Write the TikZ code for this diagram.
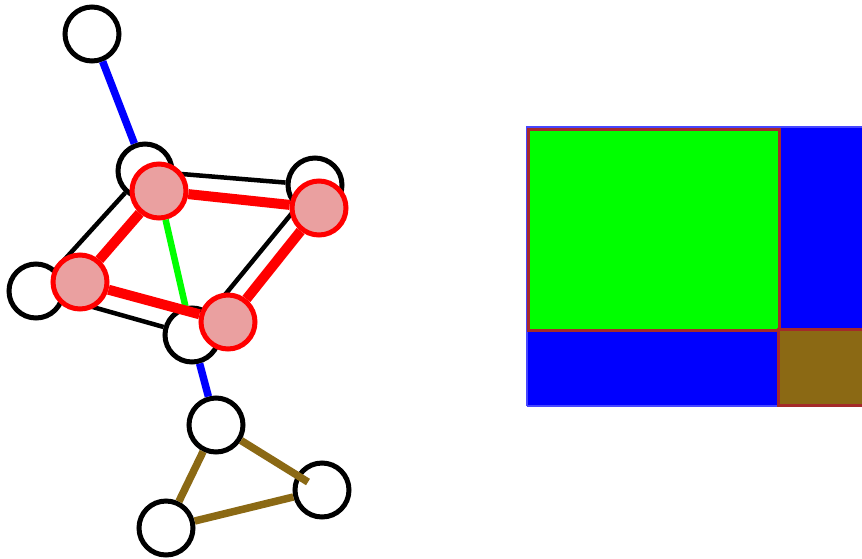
\documentclass[tikz,border=0pt]{standalone}
\begin{document}
\begin{tikzpicture}[x=1pt,y=-1pt,
  wnode/.style={circle,draw=black,line width=5pt,fill=white,minimum size=54pt,inner sep=0pt},
  rnode/.style={circle,draw=red,line width=5pt,fill=pinkfill,minimum size=54pt,inner sep=0pt},
  blk/.style={draw=black,line width=4.5pt},
  blu/.style={draw=blue,line width=7.5pt},
  grn/.style={draw=green,line width=6.5pt},
  rdl/.style={draw=red,line width=10pt},
  brn/.style={draw=olivebrown,line width=7.5pt},
  rectedge/.style={draw=rectborder,line width=3pt}]
\definecolor{pinkfill}{RGB}{234,160,160}
\definecolor{olivebrown}{RGB}{139,105,20}
\definecolor{rectborder}{RGB}{165,42,42}
\definecolor{lightblue}{RGB}{70,70,255}
\useasboundingbox (0,0) rectangle (862,558);
% rectangles
\fill[blue] (527,127) rectangle (875,406);
\draw[lightblue,line width=1.5pt] (527,406) -- (527,127) -- (875,127);
\draw[lightblue,line width=1.5pt] (527,406) -- (780,406);
\path[fill=green,rectedge] (528,129) rectangle (779,330);
\path[fill=olivebrown,rectedge] (778,329) rectangle (880,405);
% white nodes
\node[wnode] (A) at (92,34) {};
\node[wnode] (B) at (145,171) {};
\node[wnode] (C) at (315,185) {};
\node[wnode] (D) at (36,291) {};
\node[wnode] (E) at (192,335) {};
\node[wnode] (F) at (216,425) {};
\node[wnode] (G) at (322,490) {};
\node[wnode] (H) at (166,528) {};
\coordinate (Gin) at (308,482);
% edges
\draw[blu] (A) -- (B);
\draw[blu] (E) -- (F);
\draw[blk] (B) -- (C);
\draw[blk] (C) -- (E);
\draw[blk] (E) -- (D);
\draw[blk] (D) -- (B);
\draw[brn] (F) -- (Gin);
\draw[brn] (G) -- (H);
\draw[brn] (H) -- (F);
% red nodes
\node[rnode] (R1) at (159,191) {};
\node[rnode] (R2) at (319,208) {};
\node[rnode] (R3) at (80,282) {};
\node[rnode] (R4) at (228,322) {};
\draw[grn] (R1) -- (E);
\draw[rdl] (R1) -- (R2);
\draw[rdl] (R2) -- (R4);
\draw[rdl] (R4) -- (R3);
\draw[rdl] (R3) -- (R1);
\end{tikzpicture}
\end{document}
